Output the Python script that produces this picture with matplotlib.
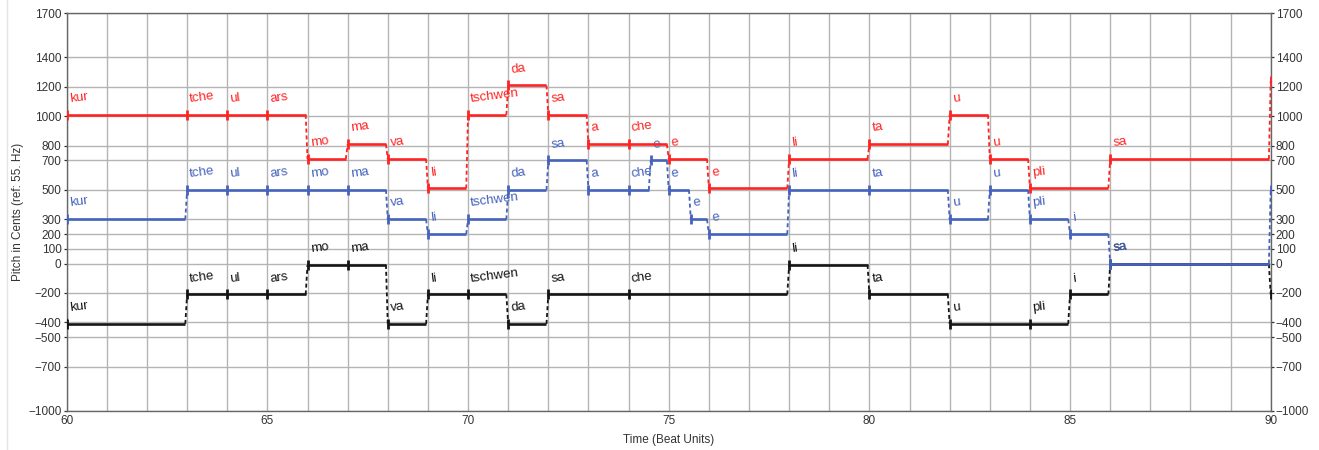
import matplotlib
matplotlib.use("Agg")
import matplotlib.pyplot as plt
from matplotlib.lines import Line2D

plt.rcParams['font.family'] = ['Liberation Sans', 'DejaVu Sans']

# ---- data ----
red_start = [59, 60, 63, 64, 65, 66, 67, 68, 69, 70, 71, 72, 73, 74, 75, 76, 78, 80, 82, 83, 84, 86, 90]
red_vals = [840, 1010, 1010, 1010, 1010, 710, 810, 710, 510, 1010, 1210, 1010, 810, 810, 710, 510,
            710, 810, 1010, 710, 510, 710, 1240]
red_labels = ['', 'kur', 'tche', 'ul', 'ars', 'mo', 'ma', 'va', 'li', 'tschwen', 'da', 'sa', 'a', 'che',
              'e', 'e', 'li', 'ta', 'u', 'u', 'pli', 'sa', '']

blue_start = [59, 60, 63, 64, 65, 66, 67, 68, 69, 70, 71, 72, 73, 74, 74.55, 75, 75.55, 76, 78, 80,
              82, 83, 84, 85, 86, 90]
blue_vals = [200, 300, 500, 500, 500, 500, 500, 300, 200, 300, 500, 700, 500, 500, 700, 500, 300, 200,
             500, 500, 300, 500, 300, 200, 0, 500]
blue_labels = ['', 'kur', 'tche', 'ul', 'ars', 'mo', 'ma', 'va', 'li', 'tschwen', 'da', 'sa', 'a', 'che',
               'e', 'e', 'e', 'e', 'li', 'ta', 'u', 'u', 'pli', 'i', 'sa', '']

black_start = [59, 60, 63, 64, 65, 66, 67, 68, 69, 70, 71, 72, 74, 78, 80, 82, 84, 85, 86, 90]
black_vals = [-230, -410, -210, -210, -210, -10, -10, -410, -210, -210, -410, -210, -210, -10, -210,
              -410, -410, -210, -5, -210]
black_labels = ['', 'kur', 'tche', 'ul', 'ars', 'mo', 'ma', 'va', 'li', 'tschwen', 'da', 'sa', 'che',
                'li', 'ta', 'u', 'pli', 'i', 'sa', '']

y_ticks = [1700, 1400, 1200, 1000, 800, 700, 500, 300, 200, 100, 0, -200, -400, -500, -700, -1000]
x_ticks = [60, 65, 70, 75, 80, 85, 90]

# ---- figure ----
W, H = 1319, 450
fig = plt.figure(figsize=(W / 100, H / 100), dpi=100)
ax = fig.add_axes([66.7 / W, 1 - 410.7 / H, (1270.7 - 66.7) / W, (410.7 - 13.3) / H])
ax.set_xlim(60, 90)
ax.set_ylim(-1000, 1700)

grid_c = '#b4b4b4'
for x in range(60, 91):
    ax.axvline(x, color=grid_c, lw=1.0, zorder=0)
for y in y_ticks:
    ax.axhline(y, color=grid_c, lw=1.0, zorder=0)

GAP = 0.045


def draw_series(starts, vals, labels, color, z):
    n = len(starts)
    for i in range(n):
        s, v = starts[i], vals[i]
        if i < n - 1:
            nxt = starts[i + 1]
            nv = vals[i + 1]
            end = nxt if nv == v else nxt - GAP
            ax.plot([s, end], [v, v], color=color, lw=1.9, solid_capstyle='butt', zorder=z)
            if nv != v:
                ax.plot([end, nxt], [v, nv], color=color, lw=1.3,
                        linestyle=(0, (2.2, 1.6)), zorder=z)
        ax.plot([s], [v], marker='|', markersize=7.5, markeredgewidth=2.0, color=color, zorder=z)
        if labels[i]:
            ax.text(s + 0.07, v + 108, labels[i], color=color, fontsize=9.5, rotation=7,
                    rotation_mode='anchor', ha='left', va='center', clip_on=True, zorder=z)


draw_series(black_start, black_vals, black_labels, '#151515', 3)
draw_series(blue_start, blue_vals, blue_labels, '#4563bd', 4)
draw_series(red_start, red_vals, red_labels, '#ff2424', 5)

ax.set_xticks(x_ticks)
ax.set_yticks(y_ticks)
ax.set_yticklabels([f"{t}".replace('-', '\u2212') for t in y_ticks])
ax.tick_params(axis='x', length=0, pad=3, labelsize=8.5, colors='#333333')
ax.tick_params(axis='y', which='both', direction='out', length=2.5, width=0.9, pad=1.2,
               labelsize=8.5, colors='#333333', right=True, labelright=True)

for sp in ax.spines.values():
    sp.set_color('#666666')
    sp.set_linewidth(1.0)

ax.set_xlabel('Time (Beat Units)', fontsize=8.5, color='#333333', labelpad=5)
ax.set_ylabel('Pitch in Cents (ref: 55. Hz)', fontsize=8.5, color='#333333', labelpad=3)

fig.add_artist(Line2D([7 / W, 7 / W], [0, 1], color='#e4e4e4', lw=1.0))

fig.savefig('out.png', dpi=100)
